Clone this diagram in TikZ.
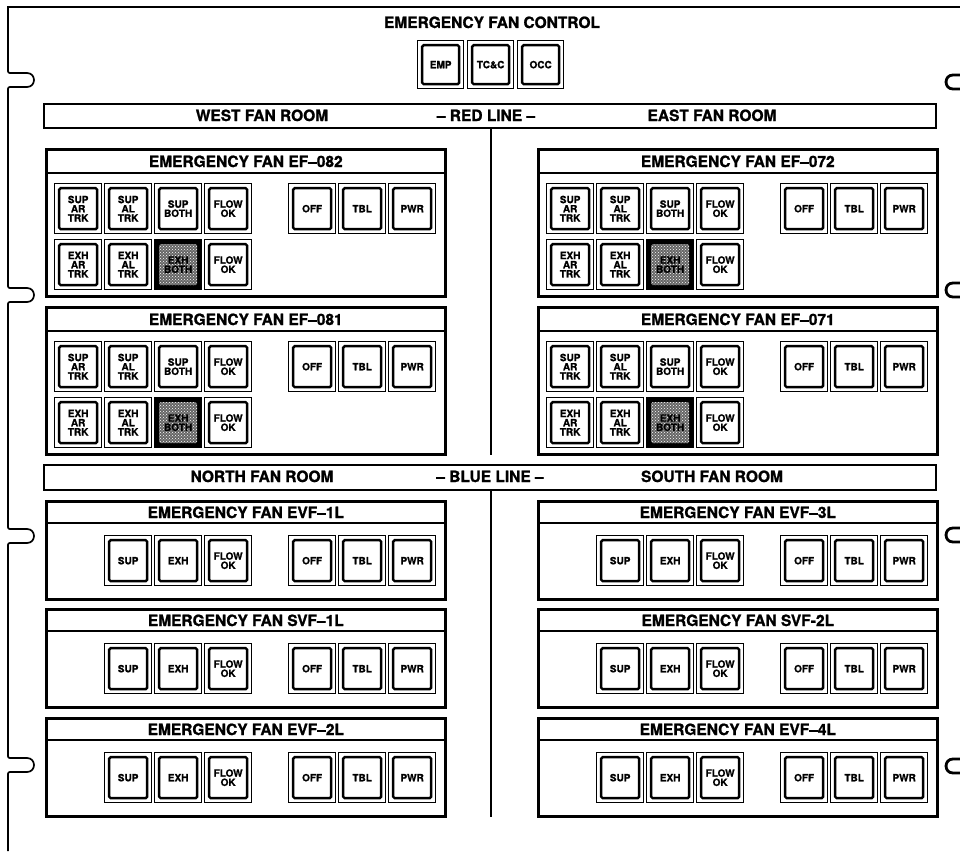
\documentclass[tikz,border=0pt]{standalone}
\usepackage{fontspec}
\setmainfont{TeX Gyre Heros}[BoldFeatures={FakeBold=1.2}]
\usetikzlibrary{patterns,calc}

\newcommand{\ttlfont}{\fontsize{15.5}{16}\selectfont\bfseries}
\newcommand{\bfnt}{\fontsize{10}{9.2}\selectfont\bfseries}

\tikzset{
  frameline/.style={line width=1.7pt},
  hookline/.style={line width=2.8pt},
  band/.style={draw, line width=2.4pt, inner sep=0pt, anchor=north west},
  fanbox/.style={draw, line width=2.6pt, inner sep=0pt, anchor=north west},
  divline/.style={line width=2.6pt},
  titletext/.style={font=\ttlfont, anchor=base, inner sep=0pt},
  btnout/.style={draw, line width=1.3pt, minimum width=47pt, minimum height=50pt, inner sep=0pt, anchor=north west},
  btnin/.style={draw, line width=2.4pt, rounded corners=1.5pt, minimum width=38pt, minimum height=41pt, inner sep=0pt, align=center, font=\bfnt},
  topout/.style={btnout, minimum width=46pt, minimum height=48pt},
  topin/.style={btnin, minimum width=37pt, minimum height=39pt},
}

% plain button: name, position, label
\newcommand{\fbtn}[3]{%
  \node[btnout] (#1) at (#2) {};
  \node[btnin] (#1-i) at (#1.center) {#3};
}
% shaded button
\newcommand{\sbtn}[3]{%
  \node[btnout, fill=black] (#1) at (#2) {};
  \node[btnin, draw=none, preaction={fill=black!60}, pattern=crosshatch dots, pattern color=white] (#1-i) at (#1.center) {#3};
}
% status buttons OFF TBL PWR
\newcommand{\statbtns}[1]{%
  \fbtn{#1-off}{$(#1.north west)+(243,35)$}{OFF}
  \fbtn{#1-tbl}{$(#1.north west)+(293,35)$}{TBL}
  \fbtn{#1-pwr}{$(#1.north west)+(343,35)$}{PWR}
}
% EF type box: name, x, y, title
\newcommand{\efbox}[4]{%
  \node[fanbox, minimum width=399pt, minimum height=147pt] (#1) at (#2,#3) {};
  \draw[line width=2.2pt] ([yshift=-25pt]#1.north west) -- ([yshift=-25pt]#1.north east);
  \node[titletext] (#1-t) at ([yshift=-19pt]#1.north) {#4};
  \fbtn{#1-a1}{$(#1.north west)+(9,35)$}{SUP\\AR\\TRK}
  \fbtn{#1-a2}{$(#1.north west)+(59,35)$}{SUP\\AL\\TRK}
  \fbtn{#1-a3}{$(#1.north west)+(109,35)$}{SUP\\BOTH}
  \fbtn{#1-a4}{$(#1.north west)+(159,35)$}{FLOW\\OK}
  \fbtn{#1-b1}{$(#1.north west)+(9,91)$}{EXH\\AR\\TRK}
  \fbtn{#1-b2}{$(#1.north west)+(59,91)$}{EXH\\AL\\TRK}
  \sbtn{#1-b3}{$(#1.north west)+(109,91)$}{EXH\\BOTH}
  \fbtn{#1-b4}{$(#1.north west)+(159,91)$}{FLOW\\OK}
  \statbtns{#1}
}
% EVF type box: name, x, y, title
\newcommand{\evfbox}[4]{%
  \node[fanbox, minimum width=399pt, minimum height=98pt] (#1) at (#2,#3) {};
  \draw[line width=2.2pt] ([yshift=-23pt]#1.north west) -- ([yshift=-23pt]#1.north east);
  \node[titletext] (#1-t) at ([yshift=-18pt]#1.north) {#4};
  \fbtn{#1-s}{$(#1.north west)+(59,35)$}{SUP}
  \fbtn{#1-e}{$(#1.north west)+(109,35)$}{EXH}
  \fbtn{#1-f}{$(#1.north west)+(159,35)$}{FLOW\\OK}
  \statbtns{#1}
}

\begin{document}
\begin{tikzpicture}[x=1pt, y=-1pt]
\useasboundingbox[fill=white] (0,0) rectangle (960,851);

% outer frame with tabs on the left
\draw[frameline] (960,7) -- (8,7)
  foreach \yc in {80,295,536,765} {
    -- (8,\yc-11) .. controls (8,\yc-7) .. (12,\yc-7) -- (27,\yc-7)
    .. controls (36.3,\yc-7) and (36.3,\yc+7) .. (27,\yc+7)
    -- (12,\yc+7) .. controls (8,\yc+7) .. (8,\yc+11)
  } -- (8,851);

% hooks on the right
\foreach \yc in {82,290,535,766} {
  \draw[hookline] (961,\yc-7) -- (953,\yc-7) .. controls (943.7,\yc-7) and (943.7,\yc+7) .. (953,\yc+7) -- (961,\yc+7);
}

% main title and control buttons
\node[titletext] (maintitle) at (492,28) {EMERGENCY FAN CONTROL};
\node[topout] (emp) at (417,40) {};
\node[topin] (emp-i) at (emp.center) {EMP};
\node[topout] (tcc) at (467,40) {};
\node[topin] (tcc-i) at (tcc.center) {TC\&C};
\node[topout] (occ) at (517,40) {};
\node[topin] (occ-i) at (occ.center) {OCC};

% red line band
\node[band, minimum width=892pt, minimum height=24pt] (redband) at (43,103) {};
\node[titletext] (west) at (262,121) {WEST FAN ROOM};
\node[titletext] (red) at (486,121) {-- RED LINE --};
\node[titletext] (east) at (712,121) {EAST FAN ROOM};

% blue line band
\node[band, minimum width=892pt, minimum height=25pt] (blueband) at (43,464) {};
\node[titletext] (north) at (262,482) {NORTH FAN ROOM};
\node[titletext] (blue) at (490,482) {-- BLUE LINE --};
\node[titletext] (south) at (712,482) {SOUTH FAN ROOM};

% dividers
\coordinate (divA) at (491,127);
\coordinate (divB) at (491,455);
\coordinate (divC) at (491,489);
\coordinate (divD) at (491,817);
\draw[divline] (divA) -- (divB);
\draw[divline] (divC) -- (divD);

% fan boxes
\efbox{ef082}{45}{148}{EMERGENCY FAN EF--082}
\efbox{ef072}{537}{148}{EMERGENCY FAN EF--072}
\efbox{ef081}{45}{306}{EMERGENCY FAN EF--081}
\efbox{ef071}{537}{306}{EMERGENCY FAN EF--071}

\evfbox{evf1}{45}{500}{EMERGENCY FAN EVF--1L}
\evfbox{evf3}{537}{500}{EMERGENCY FAN EVF--3L}
\evfbox{svf1}{45}{608}{EMERGENCY FAN SVF--1L}
\evfbox{svf2}{537}{608}{EMERGENCY FAN SVF-2L}
\evfbox{evf2}{45}{717}{EMERGENCY FAN EVF--2L}
\evfbox{evf4}{537}{717}{EMERGENCY FAN EVF--4L}

\end{tikzpicture}
\end{document}
